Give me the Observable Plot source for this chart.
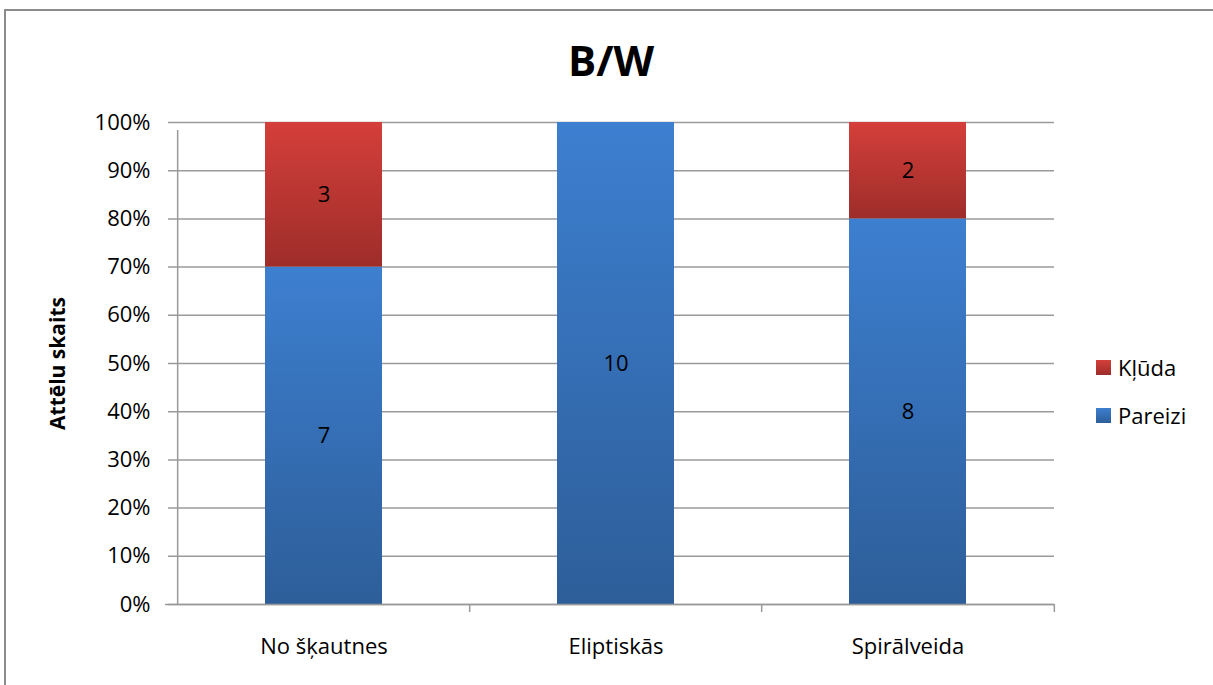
<!DOCTYPE html>
<html>
<head>
<meta charset="utf-8">
<script src="https://cdn.jsdelivr.net/npm/d3@7"></script>
<script src="https://cdn.jsdelivr.net/npm/@observablehq/plot@0.6"></script>
<style>
  html, body { margin: 0; padding: 0; background: #fff; }
  #wrap { position: relative; width: 1213px; height: 685px; overflow: hidden; font-family: "Open Sans", Lato, sans-serif; }
  #border { position: absolute; left: 4px; top: 9px; width: 1230px; height: 700px; border-left: 2px solid #8c8c8c; border-top: 2px solid #8c8c8c; box-sizing: border-box; }
  #title { position: absolute; left: 0; width: 1222px; top: 31px; text-align: center; font-size: 42px; font-weight: bold; color: #000; }
  #chart { position: absolute; left: 0; top: 0; }
  .legend { position: absolute; left: 1096px; font-size: 22px; line-height: 22px; color: #000; display: flex; align-items: center; white-space: nowrap; }
  .legend span.sw { width: 15px; height: 15px; display: inline-block; margin-right: 7px; }
</style>
</head>
<body>
<div id="wrap">
  <div id="border"></div>
  <div id="chart"></div>
  <div id="title">B/W</div>
  <div class="legend" style="top:356px"><span class="sw" style="background:linear-gradient(#d43f3a,#9e2d2a)"></span>Kļūda</div>
  <div class="legend" style="top:404px"><span class="sw" style="background:linear-gradient(#3d7fd0,#2d5e99)"></span>Pareizi</div>
</div>
<script>
const categories = ["No šķautnes", "Eliptiskās", "Spirālveida"];
const series = ["Pareizi", "Kļūda"];
const pareizi = [7, 10, 8];
const kluda = [3, 0, 2];
const yTicks = [0, 0.1, 0.2, 0.3, 0.4, 0.5, 0.6, 0.7, 0.8, 0.9, 1];

const data = [];
categories.forEach((c, i) => data.push({cat: c, series: "Pareizi", count: pareizi[i]}));
categories.forEach((c, i) => data.push({cat: c, series: "Kļūda", count: kluda[i]}));

const W = 1213, H = 685;
const mL = 176, mR = 159, mT = 122, mB = 81;
const step = (W - mL - mR) / categories.length;
const font = '"Open Sans", Lato, sans-serif';

const plot = Plot.plot({
  width: W,
  height: H,
  marginLeft: mL,
  marginRight: mR,
  marginTop: mT,
  marginBottom: mB,
  style: {fontFamily: font, fontSize: "22px", color: "#000", background: "transparent", overflow: "visible"},
  x: {domain: categories, paddingInner: 0.6, paddingOuter: 0.3, label: null},
  y: {domain: [0, 1], label: null},
  color: {domain: series, range: ["url(#gBlue)", "url(#gRed)"]},
  marks: [
    Plot.ruleY(yTicks, {stroke: "#9a9a9a", strokeWidth: 1.5, insetLeft: -8}),
    Plot.barY(data, Plot.stackY({x: "cat", y: "count", fill: "series", offset: "normalize", order: series, filter: d => d.count > 0, style: "filter: drop-shadow(2px 2px 2px rgba(0,0,0,0.25))"})),
    Plot.ruleX([categories[0]], {dx: -step / 2, y1: 0, y2: 1, insetBottom: -8, stroke: "#9a9a9a", strokeWidth: 1.5}),
    Plot.ruleX(categories.slice(1), {dx: -step / 2, y1: 0, y2: 0, insetBottom: -8, stroke: "#9a9a9a", strokeWidth: 1.5}),
    Plot.ruleX([categories[categories.length - 1]], {dx: step / 2, y1: 0, y2: 0, insetBottom: -8, stroke: "#9a9a9a", strokeWidth: 1.5}),
    Plot.ruleY([0], {stroke: "#9a9a9a", strokeWidth: 1.5, insetLeft: -11}),
    Plot.text(data, Plot.stackY({x: "cat", y: "count", text: "count", z: "series", offset: "normalize", order: series, filter: d => d.count > 0, fill: "#000", fontSize: 22})),
    Plot.axisY(yTicks, {tickSize: 0, tickPadding: 26, tickFormat: d => Math.round(d * 100) + "%", fontSize: 22, label: null}),
    Plot.axisX({tickSize: 0, tickPadding: 34, fontSize: 22, label: null}),
    Plot.text(["Attēlu skaits"], {frameAnchor: "left", dx: -118, rotate: -90, fontWeight: "bold", fontSize: 21, textAnchor: "middle"})
  ]
});

const ns = "http://www.w3.org/2000/svg";
const defs = document.createElementNS(ns, "defs");
function grad(id, top, bottom) {
  const g = document.createElementNS(ns, "linearGradient");
  g.setAttribute("id", id);
  g.setAttribute("x1", "0"); g.setAttribute("y1", "0");
  g.setAttribute("x2", "0"); g.setAttribute("y2", "1");
  [[0, top], [1, bottom]].forEach(([o, c]) => {
    const s = document.createElementNS(ns, "stop");
    s.setAttribute("offset", o);
    s.setAttribute("stop-color", c);
    g.appendChild(s);
  });
  defs.appendChild(g);
}
grad("gBlue", "#3d7fd0", "#2d5e99");
grad("gRed", "#d43f3a", "#9e2d2a");
plot.insertBefore(defs, plot.firstChild);

document.getElementById("chart").appendChild(plot);
</script>
</body>
</html>
